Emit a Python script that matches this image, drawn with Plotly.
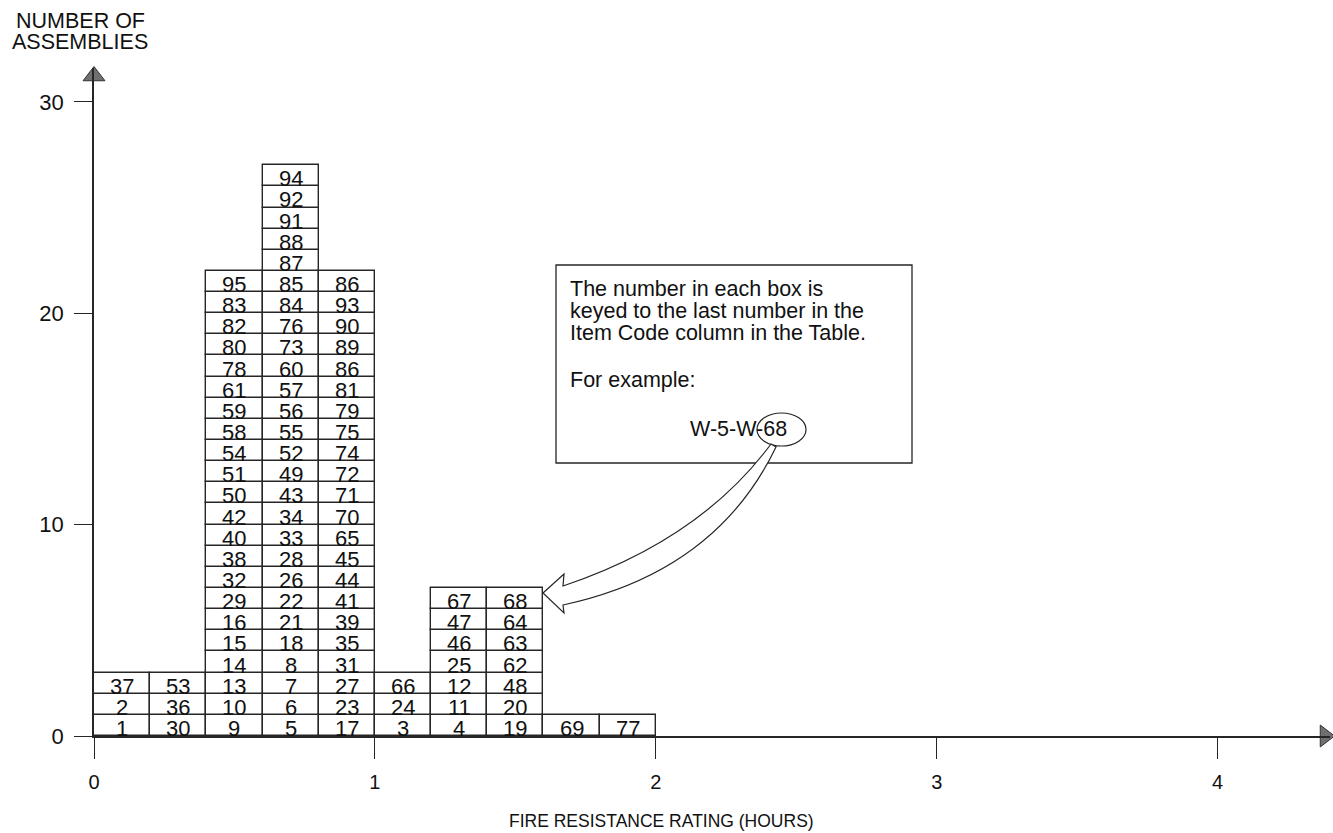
import plotly.graph_objects as go

# ---------------- data ----------------
bin_starts = [0.0, 0.2, 0.4, 0.6, 0.8, 1.0, 1.2, 1.4, 1.6, 1.8]
bin_width = 0.2

# item numbers stacked in each column, listed bottom -> top
col_00 = ["1", "2", "37"]
col_02 = ["30", "36", "53"]
col_04 = ["9", "10", "13", "14", "15", "16", "29", "32", "38", "40", "42",
          "50", "51", "54", "58", "59", "61", "78", "80", "82", "83", "95"]
col_06 = ["5", "6", "7", "8", "18", "21", "22", "26", "28", "33", "34", "43",
          "49", "52", "55", "56", "57", "60", "73", "76", "84", "85", "87",
          "88", "91", "92", "94"]
col_08 = ["17", "23", "27", "31", "35", "39", "41", "44", "45", "65", "70",
          "71", "72", "74", "75", "79", "81", "86", "89", "90", "93", "86"]
col_10 = ["3", "24", "66"]
col_12 = ["4", "11", "12", "25", "46", "47", "67"]
col_14 = ["19", "20", "48", "62", "63", "64", "68"]
col_16 = ["69"]
col_18 = ["77"]
columns = [col_00, col_02, col_04, col_06, col_08, col_10, col_12, col_14, col_16, col_18]

x_tick_vals = [0, 1, 2, 3, 4]
y_tick_vals = [0, 10, 20, 30]

x_title = "FIRE RESISTANCE RATING (HOURS)"
y_title_lines = ["NUMBER OF", "ASSEMBLIES"]
note_lines = ["The number in each box is",
              "keyed to the last number in the",
              "Item Code column in the Table."]
note_example_label = "For example:"
note_example_code = "W-5-W-68"

# ---------------- geometry / style ----------------
W, H = 1333, 833
L, R, T, B = 94, 3, 68, 97
XR = [0, 4.4]
YR = [0, 31.6]
plot_w = W - L - R
plot_h = H - T - B
FONT = "Liberation Sans, Arial, Helvetica, sans-serif"
INK = "#262626"


def px_x(px):
    return XR[0] + (px - L) / plot_w * (XR[1] - XR[0])


def px_y(py):
    return YR[0] + (H - B - py) / plot_h * (YR[1] - YR[0])


def pp_x(px):
    return (px - L) / plot_w


def pp_y(py):
    return (H - B - py) / plot_h


fig = go.Figure()

# stacked boxes
bx, bbase = [], []
for start, labels in zip(bin_starts, columns):
    for i, lab in enumerate(labels):
        bx.append(start + bin_width / 2)
        bbase.append(i)
fig.add_trace(go.Bar(
    x=bx, y=[1] * len(bx), base=bbase, width=bin_width,
    marker=dict(color="white", line=dict(color=INK, width=1.4)),
    hoverinfo="skip", showlegend=False,
))

annotations = []
for start, labels in zip(bin_starts, columns):
    for i, lab in enumerate(labels):
        annotations.append(dict(
            x=start + bin_width / 2, y=i + 0.5, xref="x", yref="y",
            text=lab, showarrow=False, xanchor="center", yanchor="middle",
            yshift=-3, borderpad=0,
            font=dict(family=FONT, size=22, color="#111"),
        ))

# axis arrowheads
fig.add_trace(go.Scatter(
    x=[0], y=[px_y(76)], mode="markers",
    marker=dict(symbol="triangle-up", size=19, color="#707070",
                line=dict(color="#333", width=1)),
    cliponaxis=False, hoverinfo="skip", showlegend=False,
))
fig.add_trace(go.Scatter(
    x=[px_x(1325)], y=[0], mode="markers",
    marker=dict(symbol="triangle-right", size=19, color="#707070",
                line=dict(color="#333", width=1)),
    cliponaxis=False, hoverinfo="skip", showlegend=False,
))

# y-axis title (two lines, top-left)
for txt, py in zip(y_title_lines, [21, 42]):
    annotations.append(dict(
        x=pp_x(80), y=pp_y(py), xref="paper", yref="paper", text=txt,
        showarrow=False, xanchor="center", yanchor="middle", borderpad=0,
        font=dict(family=FONT, size=21.5, color="#111"),
    ))

# x-axis title
annotations.append(dict(
    x=pp_x(661), y=pp_y(821), xref="paper", yref="paper", text=x_title,
    showarrow=False, xanchor="center", yanchor="middle",
    font=dict(family=FONT, size=17.5, color="#111"),
))

# callout text
for txt, py in zip(note_lines + [note_example_label], [289, 311, 333, 380]):
    annotations.append(dict(
        x=pp_x(569), y=pp_y(py), xref="paper", yref="paper", text=txt,
        showarrow=False, xanchor="left", yanchor="middle", borderpad=0,
        font=dict(family=FONT, size=21.5, color="#111"),
    ))
annotations.append(dict(
    x=pp_x(738), y=pp_y(429), xref="paper", yref="paper", text=note_example_code,
    showarrow=False, xanchor="center", yanchor="middle",
    font=dict(family=FONT, size=21.5, color="#111"),
))

# callout shapes
shapes = [
    dict(type="rect", xref="x", yref="y",
         x0=px_x(556), x1=px_x(912), y0=px_y(265), y1=px_y(463),
         line=dict(color=INK, width=1.3), fillcolor="rgba(0,0,0,0)"),
    dict(type="circle", xref="x", yref="y",
         x0=px_x(757), x1=px_x(806), y0=px_y(413), y1=px_y(446),
         line=dict(color=INK, width=1.2)),
]


def P(px, py):
    return f"{px_x(px):.5f},{px_y(py):.5f}"


arrow_path = (
    f"M {P(543, 593)} L {P(564, 574)} L {P(563, 586)} "
    f"Q {P(700, 540)} {P(771, 444)} "
    f"L {P(776, 447)} "
    f"Q {P(716, 572)} {P(563, 605)} "
    f"L {P(564, 613)} Z"
)
shapes.append(dict(type="path", xref="x", yref="y", path=arrow_path,
                   line=dict(color=INK, width=1.2), fillcolor="white"))

fig.update_layout(
    width=W, height=H,
    margin=dict(l=L, r=R, t=T, b=B, pad=0),
    paper_bgcolor="white", plot_bgcolor="white",
    barmode="overlay", bargap=0,
    showlegend=False,
    annotations=annotations,
    shapes=shapes,
    font=dict(family=FONT, color="#111"),
)
fig.update_xaxes(
    range=XR, tickvals=x_tick_vals, ticktext=[str(v) for v in x_tick_vals],
    showgrid=False, zeroline=False, showline=True, linecolor=INK, linewidth=1.5,
    ticks="outside", ticklen=21, tickwidth=1.3, tickcolor=INK,
    ticklabelstandoff=6,
    tickfont=dict(family=FONT, size=20, color="#111"),
    fixedrange=True,
)
fig.update_yaxes(
    range=YR, tickvals=y_tick_vals, ticktext=[str(v) for v in y_tick_vals],
    showgrid=False, zeroline=False, showline=True, linecolor=INK, linewidth=1.5,
    ticks="outside", ticklen=18, tickwidth=1.3, tickcolor=INK,
    ticklabelstandoff=6,
    tickfont=dict(family=FONT, size=22, color="#111"),
    fixedrange=True,
)

fig.write_html("out.html", config={"displayModeBar": False},
               post_script="document.body.style.margin='0';")
